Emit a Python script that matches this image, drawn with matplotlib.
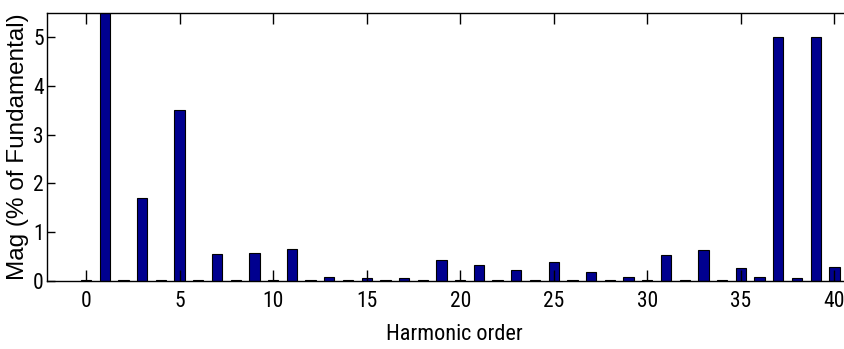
import numpy as np
import matplotlib
matplotlib.use("Agg")
import matplotlib.pyplot as plt

# harmonic spectrum, magnitude in % of fundamental (order 1 = 100 %, clipped by the axis)
orders = list(range(0, 41))
mag = [0.03, 100.0, 0.03, 1.70, 0.03, 3.50, 0.03, 0.55, 0.03, 0.58,
       0.03, 0.65, 0.03, 0.09, 0.03, 0.06, 0.03, 0.07, 0.03, 0.43,
       0.03, 0.33, 0.03, 0.23, 0.03, 0.39, 0.03, 0.19, 0.03, 0.09,
       0.03, 0.53, 0.03, 0.63, 0.03, 0.26, 0.09, 5.00, 0.06, 5.00,
       0.29]
xticks = [0, 5, 10, 15, 20, 25, 30, 35, 40]
yticks = [0, 1, 2, 3, 4, 5]

narrow = ['Roboto Condensed', 'Archivo Narrow', 'Liberation Sans', 'DejaVu Sans']

fig = plt.figure(figsize=(8.45, 3.49), dpi=100)
ax = fig.add_axes([0.0553, 0.1948, 0.9647, 0.7688])

ax.bar(orders, mag, width=0.55, color='#00008f', edgecolor='black', linewidth=0.8)

ax.set_xlim(-2.1, 41.47)
ax.set_ylim(0, 5.5)
ax.set_xticks(xticks)
ax.set_yticks(yticks)
ax.set_xticklabels([str(t) for t in xticks], family=narrow, fontsize=15.5)
ax.set_yticklabels([str(t) for t in yticks], family=narrow, fontsize=15.5)

ax.tick_params(axis='x', direction='in', length=8, width=1, top=True, pad=7)
ax.tick_params(axis='y', direction='in', length=5.5, width=1, pad=2)
ax.spines['right'].set_visible(False)
for s in ['left', 'top', 'bottom']:
    ax.spines[s].set_linewidth(1)

ax.set_xlabel('Harmonic order', family=narrow, fontsize=16, labelpad=9)
ax.set_ylabel('Mag (% of Fundamental)', family=['Liberation Sans', 'DejaVu Sans'],
              fontsize=17.5, labelpad=3)

fig.savefig('out.png', dpi=100)
